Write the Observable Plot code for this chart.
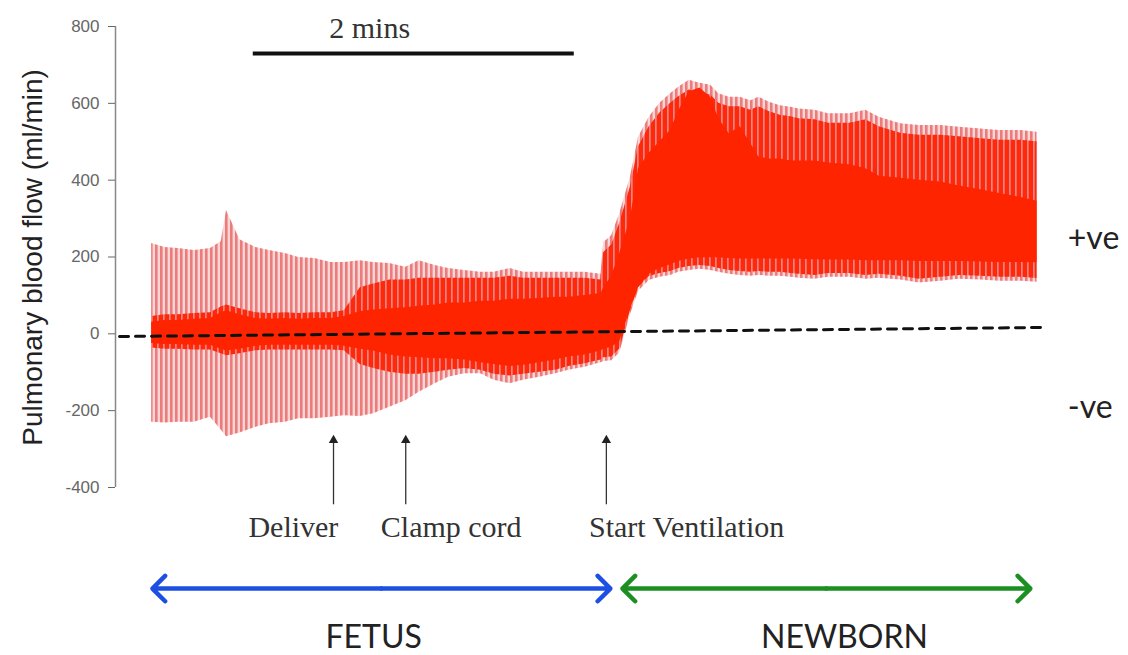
<!DOCTYPE html>
<html><head><meta charset="utf-8">
<script src="https://cdn.jsdelivr.net/npm/d3@7"></script>
<script src="https://cdn.jsdelivr.net/npm/@observablehq/plot@0.6"></script>
<style>body{margin:0;background:#fff} svg{display:block}</style>
</head><body><div id="chart"></div>
<script>
// time in seconds from start of recording
const times = [0,5,10,16,22,26,28,33,39,44, 50,55,61,67,72,78,83,89,95,100, 106,111,117,123,128,134,139,145,151,156, 162,168,169,172,175,179,182,186,190,194, 197,201,205,209,212,216,220,224,227,231, 235,239,242,248,253,261,267,272,280,287, 295,302,310,317,325,331];
// outer envelope of pulsatile flow (ml/min)
const outerHi = [235,225,222,217,222,240,321,245,225,217, 209,199,196,186,186,190,186,183,173,190, 178,170,165,160,160,170,160,160,160,160, 160,155,237,256,313,408,512,564,600,625, 642,660,652,647,625,616,616,607,616,603, 594,590,585,582,573,573,582,564,547,542, 542,538,533,529,529,525];
const outerLo = [-230,-232,-230,-230,-217,-250,-268,-258,-243,-234, -230,-221,-221,-217,-213,-215,-208,-191,-174,-152, -130,-113,-104,-104,-121,-130,-121,-113,-104,-95, -87,-75,-72,-70,-50,50,110,139,147,152, 160,165,168,165,160,155,152,150,152,150, 150,147,145,142,147,147,142,145,140,132, 137,142,140,137,137,134];
// dense beat region
const midHi = [45,50,50,53,55,70,75,65,55,53, 55,53,55,55,60,120,130,140,140,145, 145,145,145,145,145,150,145,145,145,145, 145,140,212,231,288,383,487,539,575,600, 617,635,627,622,600,591,591,582,591,578, 569,565,560,557,548,548,557,539,522,517, 517,513,508,504,504,500];
const midLo = [-37,-40,-40,-42,-42,-52,-57,-52,-44,-42, -42,-42,-42,-42,-44,-80,-90,-100,-105,-105, -100,-95,-90,-95,-105,-110,-105,-100,-95,-85, -78,-68,-62,-60,-40,60,120,149,157,162, 170,175,178,175,170,165,162,160,162,160, 160,157,155,152,157,157,152,155,150,142, 147,152,150,147,147,144];
// solid core of trace
const coreHi = [30,35,35,38,40,55,60,50,40,38, 40,38,40,40,45,58,62,65,68,72, 75,80,80,85,85,90,90,92,95,95, 100,105,120,150,210,300,430,470,500,530, 580,630,640,615,560,520,540,495,460,455, 455,450,450,450,445,440,430,410,405,400, 395,385,375,365,355,345];
const coreLo = [-25,-28,-28,-30,-30,-40,-45,-40,-32,-30, -30,-30,-30,-30,-32,-40,-45,-55,-60,-62, -65,-65,-68,-75,-80,-85,-82,-75,-68,-60, -55,-45,-40,-35,-20,65,120,155,170,180, 188,195,198,198,198,196,195,195,195,195, 195,195,194,193,192,192,190,190,190,188, 188,188,187,186,186,185];

const yTicks = [-400,-200,0,200,400,600,800];
const zeroLine = [{t:-12, v:-7}, {t:333, v:16.5}];
const scaleBar = [{start:38, end:158, label:"2 mins"}];
const eventNames = ["Deliver","Clamp cord","Start Ventilation"];
const eventTimes = [68, 95, 170];
const eventLabelTimes = [53, 112, 200];
const phaseNames = ["FETUS","NEWBORN"];
const phaseStart = [0.3, 176];
const phaseEnd = [171.5, 328.5];
const phaseLabelTimes = [83, 259];
const phaseColors = ["#1e4fe3","#1b8f22"];
const signNames = ["+ve","-ve"];
const signValues = [248, -192];

const trace = times.map((t,i)=>({t, hi:outerHi[i], lo:outerLo[i], mhi:midHi[i], mlo:midLo[i], chi:coreHi[i], clo:coreLo[i]}));
const events = eventNames.map((name,i)=>({name, t:eventTimes[i], lt:eventLabelTimes[i]}));
const phases = phaseNames.map((name,i)=>({name, s:phaseStart[i], e:phaseEnd[i], m:(phaseStart[i]+phaseEnd[i])/2, lt:phaseLabelTimes[i], c:phaseColors[i]}));
const signs = signNames.map((name,i)=>({name, v:signValues[i]}));

const serif = "Liberation Serif, Times New Roman, serif";
const sans = "Liberation Sans, Arial, sans-serif";
const humanist = "Lato, sans-serif";

const marks = [
  Plot.areaY(trace, {x:"t", y1:"lo", y2:"hi", fill:"url(#pinkStripes)"}),
  Plot.areaY(trace, {x:"t", y1:"mlo", y2:"mhi", fill:"url(#redStripes)"}),
  Plot.areaY(trace, {x:"t", y1:"clo", y2:"chi", fill:"#ff2400"}),
  Plot.line(zeroLine, {x:"t", y:"v", stroke:"#111", strokeWidth:3, strokeDasharray:"9,7"}),
  Plot.ruleX([-13.5], {y1:-400, y2:800, stroke:"#888", strokeWidth:1.5}),
  Plot.axisY({ticks:yTicks, tickFormat:d=>String(d), tickSize:7, tickPadding:9, fontSize:17, color:"#666", label:null, fontFamily:sans}),
  Plot.text(["Pulmonary blood flow (ml/min)"], {x:-41, y:199, rotate:-90, fontSize:28, fontFamily:sans, fill:"#222", textAnchor:"middle", lineAnchor:"bottom"}),
  Plot.ruleY(scaleBar, {x1:"start", x2:"end", y:730, stroke:"#111", strokeWidth:4}),
  Plot.text(scaleBar, {x:81.5, y:796, text:"label", fontSize:30, fontFamily:serif, fill:"#333", lineAnchor:"middle"}),
  Plot.ruleX(events, {x:"t", y1:-445, y2:-280, stroke:"#333", strokeWidth:1.3}),
  Plot.dot(events, {x:"t", y:-277, symbol:"triangle", r:3.5, fill:"#222", stroke:"none"}),
  Plot.text(events, {x:"lt", y:-505, text:"name", fontSize:30, fontFamily:serif, fill:"#333", lineAnchor:"middle"}),
  Plot.text(phases, {x:"lt", y:-790, text:"name", fontSize:32, fontFamily:humanist, fill:"#222", lineAnchor:"middle"}),
  Plot.text(signs, {x:342.5, y:"v", text:"name", fontSize:32, fontFamily:humanist, fill:"#222", textAnchor:"start", lineAnchor:"middle"})
];
for (const p of phases) {
  for (const end of [p.s, p.e]) {
    marks.push(Plot.arrow([p], {x1:"m", x2:()=>end, y1:-663, y2:-663, stroke:p.c, strokeWidth:4.5, headLength:6, headAngle:90}));
  }
}

const plot = Plot.plot({
  width:1128, height:655,
  marginTop:26, marginBottom:168, marginLeft:115, marginRight:54,
  x:{domain:[-13.5,345], axis:null},
  y:{domain:[-400,800]},
  style:{background:"#fff", overflow:"visible"},
  marks
});

const defs = d3.select(plot).insert("defs", ":first-child");
const p1 = defs.append("pattern").attr("id","pinkStripes").attr("patternUnits","userSpaceOnUse").attr("width",5).attr("height",10);
p1.append("rect").attr("width",5).attr("height",10).attr("fill","#f8d6d6");
p1.append("rect").attr("width",2.6).attr("height",10).attr("fill","#ec7c7c");
const p2 = defs.append("pattern").attr("id","redStripes").attr("patternUnits","userSpaceOnUse").attr("width",6).attr("height",10);
p2.append("rect").attr("width",6).attr("height",10).attr("fill","#ff2808");
p2.append("rect").attr("x",1).attr("width",1.7).attr("height",10).attr("fill","#f08484");

document.getElementById("chart").appendChild(plot);
</script></body></html>
